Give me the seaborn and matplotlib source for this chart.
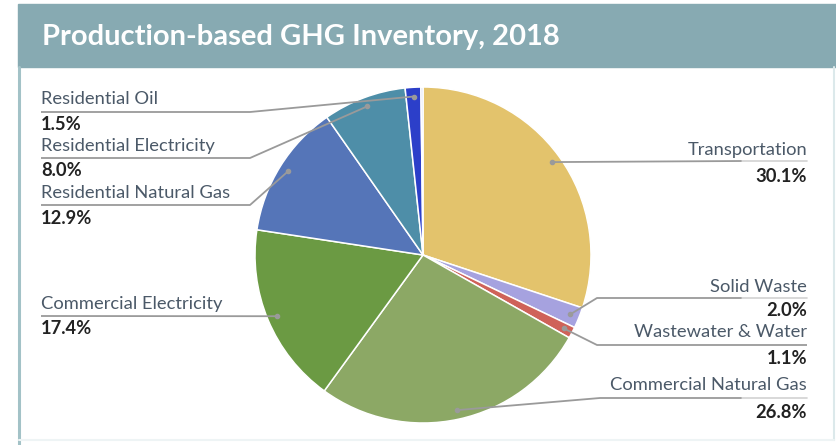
import numpy as np
import matplotlib
matplotlib.use("Agg")
import matplotlib.pyplot as plt
from matplotlib.patches import Rectangle
import seaborn as sns

# ---- data ----
categories = ["Transportation", "Solid Waste", "Wastewater & Water",
              "Commercial Natural Gas", "Commercial Electricity",
              "Residential Natural Gas", "Residential Electricity",
              "Residential Oil", ""]
values = [30.1, 2.0, 1.1, 26.8, 17.4, 12.9, 8.0, 1.5, 0.2]
value_labels = ["30.1%", "2.0%", "1.1%", "26.8%", "17.4%", "12.9%", "8.0%", "1.5%", ""]
colors = ["#E3C36C", "#A6A2DF", "#CF6259", "#8CA865", "#6B9A43",
          "#5575B8", "#4E8EA8", "#2C3FC9", "#C9D2EE"]
title = "Production-based GHG Inventory, 2018"

sns.set_theme(style="white")
plt.rcParams['font.family'] = ['Lato', 'DejaVu Sans']

W, H = 836, 445
fig = plt.figure(figsize=(W / 100, H / 100), dpi=100)
ax = fig.add_axes([0, 0, 1, 1])

def Y(y):
    return H - y

cx, cy, R = 423, Y(255), 168
wedges, _ = ax.pie(values, colors=colors, startangle=90, counterclock=False,
                   center=(cx, cy), radius=R,
                   wedgeprops=dict(edgecolor="white", linewidth=1.1))
ax.set_xlim(0, W)
ax.set_ylim(0, H)
ax.set_axis_off()

# header band and frame
ax.add_patch(Rectangle((18, Y(67)), W - 18, 63, color="#87AAB2", zorder=0))
ax.plot([19, 19], [Y(67), 0], color="#A3C2C7", lw=2.2, zorder=0)
ax.plot([834, 834], [Y(67), Y(440)], color="#DCE9EB", lw=1.5, zorder=0)
ax.plot([19, 834], [Y(440), Y(440)], color="#EEF4F5", lw=1.5, zorder=0)
ax.text(42, Y(37), title, color="white", fontsize=21, fontweight="bold",
        va="center", ha="left")

# label layout (pixel coords): side, name_y, value_y, line_y, elbow_x, line_end_x
layout = {
    "Transportation": ("R", 150, 176, 161, None, 742),
    "Solid Waste": ("R", 287, 311, 298, 597, 742),
    "Wastewater & Water": ("R", 332, 358, 345, 597, 807),
    "Commercial Natural Gas": ("R", 385, 412, 398, 600, 742),
    "Commercial Electricity": ("L", 304, 329, 316, None, 41),
    "Residential Natural Gas": ("L", 193, 218, 205, 250, 41),
    "Residential Electricity": ("L", 146, 171, 158, 250, 41),
    "Residential Oil": ("L", 99, 124, 112, 250, 41),
}

line_col = "#9A9A9A"
name_col = "#4B5968"
val_col = "#222222"
for w, cat, vl in zip(wedges, categories, value_labels):
    if cat not in layout:
        continue
    side, ny, vy, ly, ex, xend = layout[cat]
    th = np.deg2rad((w.theta1 + w.theta2) / 2)
    dx, dy = cx + 0.945 * R * np.cos(th), cy + 0.945 * R * np.sin(th)
    ax.plot([dx], [dy], "o", ms=3, color="#9A9A9A", zorder=5)
    if ex is None:
        xs, ys = [dx, xend], [dy, Y(ly)]
    else:
        xs, ys = [dx, ex, xend], [dy, Y(ly), Y(ly)]
    ax.plot(xs, ys, color=line_col, lw=1.3, zorder=4, solid_capstyle="butt")
    if side == "R":
        tx, ha = 807, "right"
        if xend < 807:
            ax.plot([xend, 807], [Y(ly), Y(ly)], color="#D2D2D2", lw=1.2, zorder=4)
    else:
        tx, ha = 41, "left"
    ax.text(tx, Y(ny), cat, color=name_col, fontsize=13.2, ha=ha, va="center")
    ax.text(tx, Y(vy), vl, color=val_col, fontsize=13.2, fontweight="bold",
            ha=ha, va="center")

fig.savefig("out.png", dpi=100)
